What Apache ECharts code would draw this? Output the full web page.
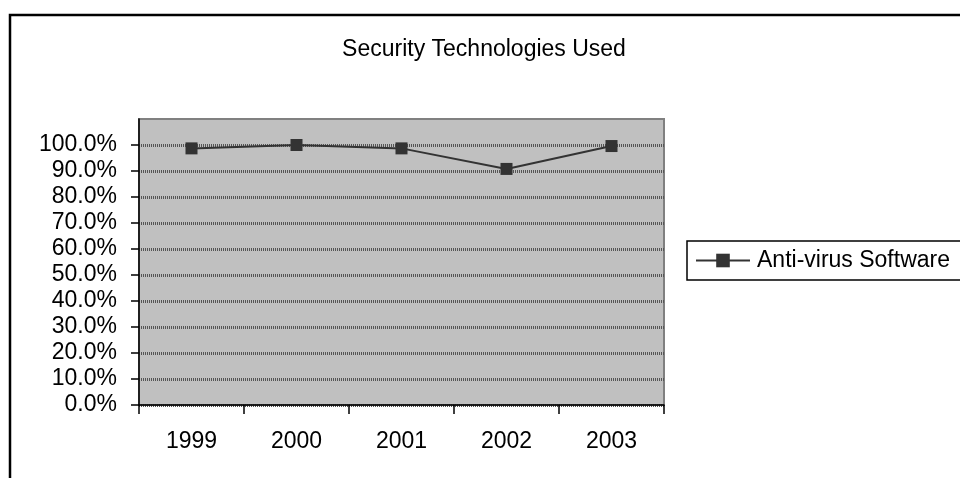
<!DOCTYPE html>
<html>
<head>
<meta charset="utf-8">
<script src="https://cdn.jsdelivr.net/npm/echarts@6/dist/echarts.min.js"></script>
<style>
  html, body { margin: 0; padding: 0; background: #fff; }
  #chart { width: 960px; height: 478px; }
</style>
</head>
<body>
<div id="chart"></div>
<script>
// Survey years and share of respondents using anti-virus software (%)
const years = ['1999', '2000', '2001', '2002', '2003'];
const antiVirus = [98.7, 100, 98.7, 90.8, 99.6];
const yTicks = [0, 10, 20, 30, 40, 50, 60, 70, 80, 90, 100];
const seriesName = 'Anti-virus Software';
const chartTitle = 'Security Technologies Used';

const FONT = 'Liberation Sans, Arial, sans-serif';
const chart = echarts.init(document.getElementById('chart'), null, { renderer: 'canvas' });

chart.setOption({
  animation: false,
  backgroundColor: '#ffffff',
  title: {
    text: chartTitle,
    left: 479,
    top: 33,
    textAlign: 'center',
    textStyle: { fontFamily: FONT, fontSize: 23, fontWeight: 'normal', color: '#000' }
  },
  legend: {
    data: [seriesName],
    left: 687,
    top: 241,
    orient: 'vertical',
    padding: [8, 12, 8, 8],
    itemWidth: 54,
    itemHeight: 17,
    itemGap: 0,
    borderColor: '#000',
    borderWidth: 1.5,
    borderRadius: 0,
    lineStyle: { width: 2 },
    textStyle: { fontFamily: FONT, fontSize: 23, color: '#000', padding: [0, 0, 0, 2] }
  },
  grid: {
    left: 139,
    top: 119,
    width: 525,
    height: 286,
    show: true,
    backgroundColor: '#c0c0c0',
    borderColor: '#808080',
    borderWidth: 2
  },
  xAxis: {
    type: 'category',
    data: years,
    boundaryGap: true,
    axisLine: { lineStyle: { color: '#000', width: 1.5 } },
    axisTick: { show: true, length: 9, alignWithLabel: false, lineStyle: { color: '#000', width: 1.5 } },
    axisLabel: { fontFamily: FONT, fontSize: 23, color: '#000', margin: 25 }
  },
  yAxis: {
    type: 'value',
    min: 0,
    max: 110,
    interval: 10,
    axisLine: { show: true, lineStyle: { color: '#000', width: 1.5 } },
    axisTick: { show: true, length: 8, customValues: yTicks, lineStyle: { color: '#000', width: 1.5 } },
    axisLabel: {
      fontFamily: FONT,
      fontSize: 23,
      color: '#000',
      margin: 22,
      customValues: yTicks,
      formatter: function (v) { return v > 100 ? '' : v.toFixed(1) + '%'; }
    },
    splitLine: { show: true, lineStyle: { color: '#555555', width: 3, type: [1, 1] } }
  },
  series: [{
    name: seriesName,
    type: 'line',
    data: antiVirus,
    symbol: 'rect',
    symbolSize: 12,
    color: '#333333',
    lineStyle: { color: '#333333', width: 2 },
    itemStyle: { color: '#333333' }
  }],
  graphic: [{
    // outer chart frame, running off the right and bottom edges
    type: 'rect',
    silent: true,
    z: -1,
    shape: { x: 10, y: 15, width: 1000, height: 500 },
    style: { fill: 'none', stroke: '#000', lineWidth: 2.5 }
  }]
});
</script>
</body>
</html>
